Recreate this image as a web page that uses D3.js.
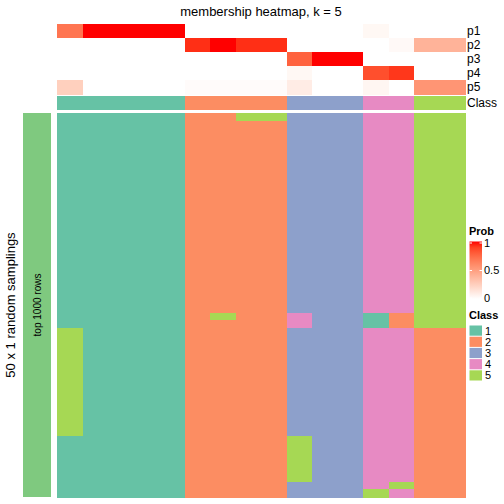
<!DOCTYPE html>
<html><head><meta charset="utf-8">
<script src="https://cdn.jsdelivr.net/npm/d3@7"></script>
<style>body{margin:0;background:#fff}svg{display:block;font-family:"Liberation Sans",Arial,sans-serif}</style>
</head><body><svg id="c" width="504" height="504"></svg>
<script>
// ---- data ----
const title = "membership heatmap, k = 5";
const probRows = ["p1","p2","p3","p4","p5"];
const p1 = [0.7,1,1,1,1,0,0,0,0,0,0,0,0.04,0,0,0];
const p2 = [0,0,0,0,0,0.94,1,0.94,0.94,0,0,0,0,0.03,0.4,0.4];
const p3 = [0,0,0,0,0,0,0,0,0,0.78,1,1,0,0,0,0];
const p4 = [0,0,0,0,0,0,0,0,0,0.04,0,0,0.85,0.92,0,0];
const p5 = [0.25,0,0,0,0,0.02,0.02,0.02,0.02,0.1,0,0,0.05,0,0.55,0.55];
const classes = [1,1,1,1,1,2,2,2,2,3,3,3,4,4,5,5];
const classNames = ["1","2","3","4","5"];
const classColors = ["#66C2A5","#FC8D62","#8DA0CB","#E78AC3","#A6D854"];
const nSamplings = 50;
// per column: runs of [class, number of samplings]
const samplingRuns = [
  [[1,28],[5,14],[1,8]],
  [[1,50]],[[1,50]],[[1,50]],[[1,50]],
  [[2,50]],
  [[2,26],[5,1],[2,23]],
  [[5,1],[2,49]],[[5,1],[2,49]],
  [[3,26],[4,2],[3,14],[5,6],[3,2]],
  [[3,50]],[[3,50]],
  [[4,26],[1,2],[4,21],[5,1]],
  [[4,26],[2,2],[4,20],[5,1],[4,1]],
  [[5,28],[2,22]],[[5,28],[2,22]]
];
const probTicks = [0,0.5,1];
const rowAnnoLabel = "top 1000 rows";
const rowTitle = "50 x 1 random samplings";

// ---- drawing ----
const svg = d3.select("#c");
const probData = [p1,p2,p3,p4,p5];
const nCol = classes.length;
const x = d3.scaleBand().domain(d3.range(nCol)).range([57,465]);
const yP = d3.scaleBand().domain(probRows).range([24,94]);
const yC = [95.5,110];
const yM = d3.scaleBand().domain(d3.range(nSamplings)).range([113,497]);
const probColor = d3.scaleLinear().domain([0,1]).range(["#ffffff","#ff0000"]).interpolate(d3.interpolateLab);
const classColor = d3.scaleOrdinal().domain([1,2,3,4,5]).range(classColors);

svg.append("text").attr("x",261).attr("y",16).attr("text-anchor","middle")
  .attr("font-size",13).text(title);

// prob rows
probRows.forEach((r,i)=>{
  svg.append("g").attr("shape-rendering","crispEdges").selectAll("rect").data(probData[i]).join("rect")
    .attr("x",(d,j)=>x(j)).attr("y",yP(r)).attr("width",x.bandwidth()+0.6).attr("height",yP.bandwidth()+0.6)
    .attr("fill",d=>probColor(d));
  svg.append("text").attr("x",467).attr("y",yP(r)+yP.bandwidth()/2).attr("dy","0.36em")
    .attr("font-size",12).text(r);
});
// class row
svg.append("g").attr("shape-rendering","crispEdges").selectAll("rect").data(classes).join("rect")
  .attr("x",(d,j)=>x(j)).attr("y",yC[0]).attr("width",x.bandwidth()+0.6).attr("height",yC[1]-yC[0])
  .attr("fill",d=>classColor(d));
svg.append("text").attr("x",467).attr("y",(yC[0]+yC[1])/2).attr("dy","0.36em").attr("font-size",12).text("Class");

// main heatmap
const cells = [];
samplingRuns.forEach((runs,j)=>{
  let r=0;
  runs.forEach(([c,n])=>{ cells.push({col:j,row:r,n:n,c:c}); r+=n; });
});
svg.append("g").attr("shape-rendering","crispEdges").selectAll("rect").data(cells).join("rect")
  .attr("x",d=>x(d.col)).attr("y",d=>yM(d.row))
  .attr("width",x.bandwidth()+0.6).attr("height",d=>yM.step()*d.n+0.6)
  .attr("fill",d=>classColor(d.c));

// row annotation
svg.append("rect").attr("x",23).attr("y",yM.range()[0]).attr("width",28)
  .attr("height",yM.range()[1]-yM.range()[0]).attr("fill","#7FC97F");
const midY = (yM.range()[0]+yM.range()[1])/2;
svg.append("text").attr("transform",`translate(37,${midY}) rotate(-90)`).attr("text-anchor","middle")
  .attr("dy","0.35em").attr("font-size",10).text(rowAnnoLabel);
svg.append("text").attr("transform",`translate(10,${midY}) rotate(-90)`).attr("text-anchor","middle")
  .attr("dy","0.35em").attr("font-size",13).text(rowTitle);

// prob legend
const lg = svg.append("g");
lg.append("text").attr("x",469).attr("y",235).attr("font-size",11).attr("font-weight","bold").text("Prob");
const defs = svg.append("defs");
const grad = defs.append("linearGradient").attr("id","pg").attr("x1",0).attr("x2",0).attr("y1",1).attr("y2",0);
d3.range(0,1.001,0.1).forEach(t=>grad.append("stop").attr("offset",t).attr("stop-color",probColor(t)));
const yL = d3.scaleLinear().domain([0,1]).range([298,243]);
lg.append("rect").attr("x",469.5).attr("y",241.5).attr("width",12.5).attr("height",57.5).attr("fill","url(#pg)");
probTicks.forEach(t=>{
  lg.append("line").attr("x1",469.5).attr("x2",472).attr("y1",yL(t)).attr("y2",yL(t)).attr("stroke","#fff");
  lg.append("line").attr("x1",479.5).attr("x2",482).attr("y1",yL(t)).attr("y2",yL(t)).attr("stroke","#fff");
  lg.append("text").attr("x",484).attr("y",yL(t)).attr("dy","0.36em").attr("font-size",11).text(d3.format("")(t));
});
// class legend
lg.append("text").attr("x",469).attr("y",319).attr("font-size",11).attr("font-weight","bold").text("Class");
const yCL = d3.scaleBand().domain(classNames).range([325,381]);
lg.selectAll("rect.cl").data(classNames).join("rect").attr("class","cl")
  .attr("x",469.5).attr("y",d=>yCL(d)+0.5).attr("width",12.5).attr("height",yCL.bandwidth()-1)
  .attr("fill",(d,i)=>classColors[i]);
lg.selectAll("text.cl").data(classNames).join("text").attr("class","cl")
  .attr("x",485).attr("y",d=>yCL(d)+yCL.bandwidth()/2).attr("dy","0.36em").attr("font-size",11).text(d=>d);
</script></body></html>
